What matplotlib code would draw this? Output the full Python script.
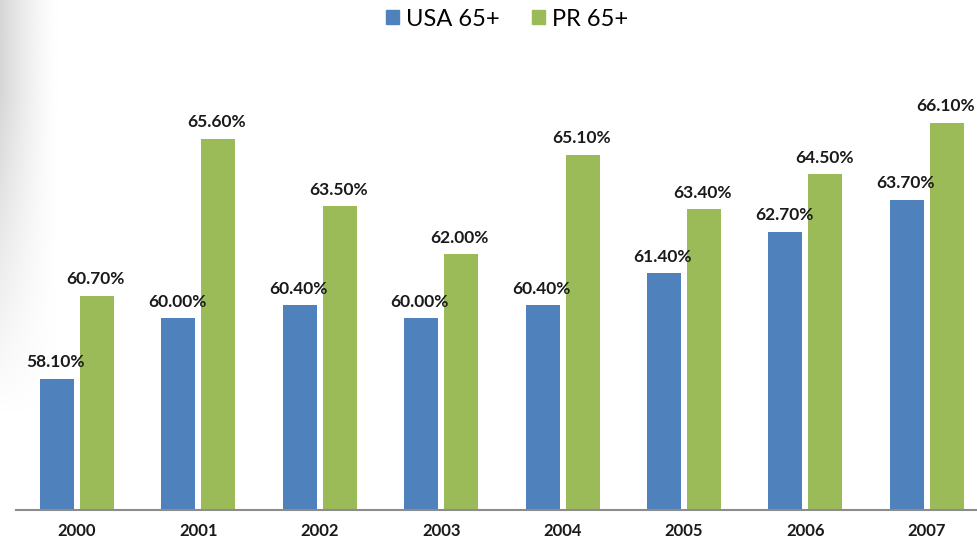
import numpy as np
import matplotlib
matplotlib.use("Agg")
import matplotlib.pyplot as plt
from matplotlib.patches import Patch

years = ["2000", "2001", "2002", "2003", "2004", "2005", "2006", "2007"]
usa_65 = [58.1, 60.0, 60.4, 60.0, 60.4, 61.4, 62.7, 63.7]
pr_65 = [60.7, 65.6, 63.5, 62.0, 65.1, 63.4, 64.5, 66.1]

blue = "#4F81BD"
green = "#9BBB59"

plt.rcParams["font.family"] = ["Lato", "DejaVu Sans"]

fig = plt.figure(figsize=(9.78, 5.42), dpi=100)

# soft gray shading on the left edge
bg = fig.add_axes([0, 0, 0.06, 1], zorder=-1)
gx = np.linspace(1, 0, 200)
gy = np.clip(np.linspace(1.3, -0.4, 200), 0, 1)
shade = np.outer(gy, gx ** 1.4)
rgba = np.ones((200, 200, 4))
rgba[..., :3] = 0.80
rgba[..., 3] = np.clip(shade, 0, 1) * 0.8
bg.imshow(rgba, aspect="auto", extent=[0, 1, 0, 1], origin="upper")
bg.axis("off")

ax = fig.add_axes([16 / 978, 1 - 510 / 542, 1 - 16 / 978, 432 / 542])
x = np.arange(len(years))
w = 0.28
off = 0.165
b1 = ax.bar(x - off, usa_65, w, color=blue, label="USA 65+")
b2 = ax.bar(x + off, pr_65, w, color=green, label="PR 65+")

for bars, vals in ((b1, usa_65), (b2, pr_65)):
    for r, v in zip(bars, vals):
        ax.annotate(f"{v:.2f}%", (r.get_x() + r.get_width() / 2, v),
                    xytext=(-1, 6), textcoords="offset points",
                    ha="center", va="bottom", fontsize=12.5, fontweight="bold",
                    color="#1a1a1a")

ax.set_ylim(54, 67.5)
ax.set_xlim(-(77 - 16) / 121.4, (978 - 77) / 121.4)
ax.set_xticks(x)
ax.set_xticklabels(years, fontsize=12, fontweight="bold", color="#1a1a1a")
ax.tick_params(axis="x", length=0, pad=9)
ax.set_yticks([])
for s in ("top", "right", "left"):
    ax.spines[s].set_visible(False)
ax.spines["bottom"].set_color("#8c8c8c")
ax.spines["bottom"].set_linewidth(1.5)
ax.patch.set_alpha(0)

handles = [Patch(color=blue), Patch(color=green)]
fig.legend(handles, ["USA 65+", "PR 65+"], loc="center", ncol=2,
           bbox_to_anchor=(507 / 978, 1 - 19 / 542), frameon=False,
           fontsize=17, handlelength=0.55, handleheight=0.55,
           handletextpad=0.3, columnspacing=1.4)

fig.savefig("out.png", dpi=100)
